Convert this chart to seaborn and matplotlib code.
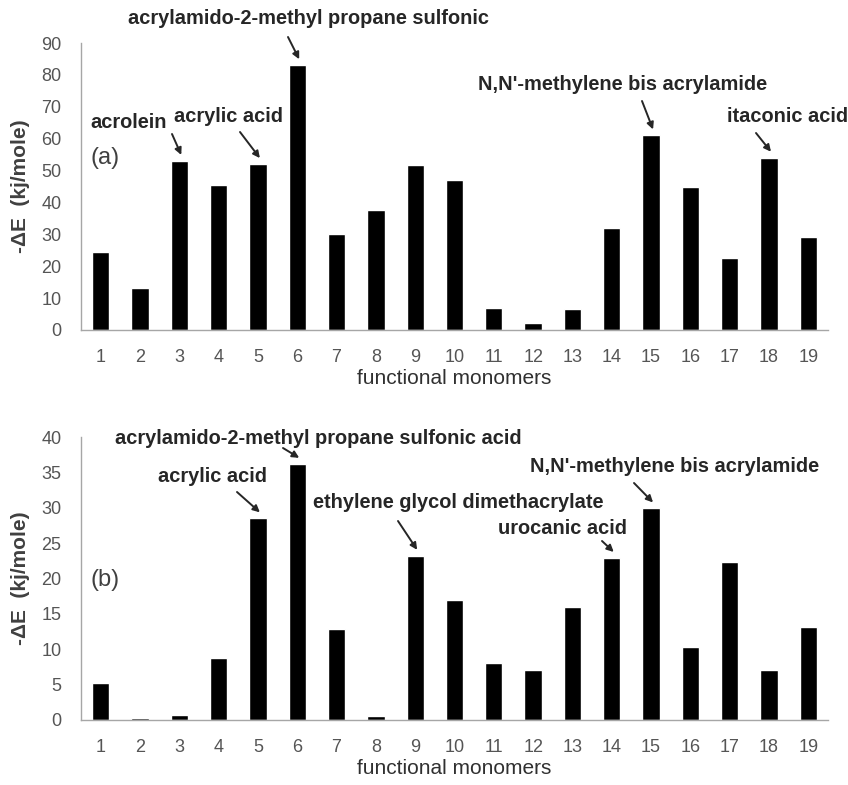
import numpy as np
import pandas as pd
import matplotlib
matplotlib.use("Agg")
import matplotlib.pyplot as plt
import seaborn as sns

monomers = [str(i) for i in range(1, 20)]
energy_a = [24.5, 13.3, 53, 45.5, 52, 83, 30, 37.7, 51.8, 47, 7, 2.2, 6.5, 32, 61, 45, 22.5, 54, 29.3]
energy_b = [5.2, 0.25, 0.7, 8.7, 28.5, 36.2, 12.8, 0.5, 23.2, 17, 8, 7, 16, 22.9, 29.9, 10.3, 22.3, 7, 13.2]

# labelled monomers: (bar index, label)
labels_a = [(2, "acrolein"), (4, "acrylic acid"), (5, "acrylamido-2-methyl propane sulfonic"),
            (14, "N,N'-methylene bis acrylamide"), (17, "itaconic acid")]
labels_b = [(4, "acrylic acid"), (5, "acrylamido-2-methyl propane sulfonic acid"),
            (8, "ethylene glycol dimethacrylate"), (13, "urocanic acid"),
            (14, "N,N'-methylene bis acrylamide")]

sns.set_style("white")
plt.rcParams['font.family'] = ['Liberation Sans', 'DejaVu Sans']

W, H = 848, 785
fig = plt.figure(figsize=(W / 100, H / 100), dpi=100)
ax_a = fig.add_axes([81 / W, 1 - 330 / H, 747 / W, 287 / H])
ax_b = fig.add_axes([81 / W, 1 - 720 / H, 747 / W, 283 / H])

grey = "#a6a6a6"

def style_axis(ax, ymax, step, tag, tag_y):
    ax.set_xlim(-0.5, 18.5)
    ax.set_ylim(0, ymax)
    ax.set_yticks(np.arange(0, ymax + 0.1, step))
    ax.set_xticks(np.arange(-0.5, 19, 1), minor=True)
    ax.tick_params(axis="x", which="major", length=0, labelsize=13, labelcolor="#555555", pad=14)
    ax.tick_params(axis="x", which="minor", length=6, color=grey, direction="out")
    ax.tick_params(axis="y", length=6, color=grey, direction="out", labelsize=13,
                   labelcolor="#555555", pad=8)
    for s in ["top", "right"]:
        ax.spines[s].set_visible(False)
    for s in ["left", "bottom"]:
        ax.spines[s].set_color(grey)
        ax.spines[s].set_linewidth(1.0)
    ax.set_xlabel("functional monomers", fontsize=15, color="#303030", labelpad=2)
    ax.set_ylabel("-ΔE  (kj/mole)", fontsize=15, fontweight="bold", color="#404040", labelpad=8)
    fig.text(90 / W, 1 - tag_y / H, tag, fontsize=17, color="#404040", va="center", ha="left")

df_a = pd.DataFrame({"monomer": monomers, "energy": energy_a})
df_b = pd.DataFrame({"monomer": monomers, "energy": energy_b})
sns.barplot(data=df_a, x="monomer", y="energy", color="black", width=0.44, ax=ax_a, saturation=1)
sns.barplot(data=df_b, x="monomer", y="energy", color="black", width=0.44, ax=ax_b, saturation=1)
style_axis(ax_a, 90, 10, "(a)", 158)
style_axis(ax_b, 40, 5, "(b)", 580)

# text centre (x, y) and arrow tail (x, y) in image pixels
text_a = {2: (129, 122, 172, 134), 4: (229, 117, 240, 132), 5: (308, 19, 288, 37),
          14: (623, 85, 642, 101), 17: (788, 117, 756, 133)}
text_b = {4: (212, 477, 237, 492), 5: (318, 438, 283, 448), 8: (458, 503, 398, 521),
          13: (562, 528, 602, 541), 14: (675, 467, 634, 483)}

def add_labels(ax, labels, values, pos, tip_off):
    for idx, name in labels:
        tx, ty, ax_x, ay = pos[idx]
        ax.text(tx / W, 1 - ty / H, name, transform=fig.transFigure, ha="center", va="center",
                fontsize=14.4, fontweight="bold", color="#262626")
        ax.annotate("", xy=(idx + 0.05, values[idx] + tip_off), xycoords="data",
                    xytext=(ax_x / W, 1 - ay / H), textcoords="figure fraction",
                    arrowprops=dict(arrowstyle="-|>", color="#262626", lw=1.4,
                                    mutation_scale=10, shrinkA=0, shrinkB=0))

add_labels(ax_a, labels_a, energy_a, text_a, 1.9)
add_labels(ax_b, labels_b, energy_b, text_b, 0.85)

fig.savefig("out.png", dpi=100)
